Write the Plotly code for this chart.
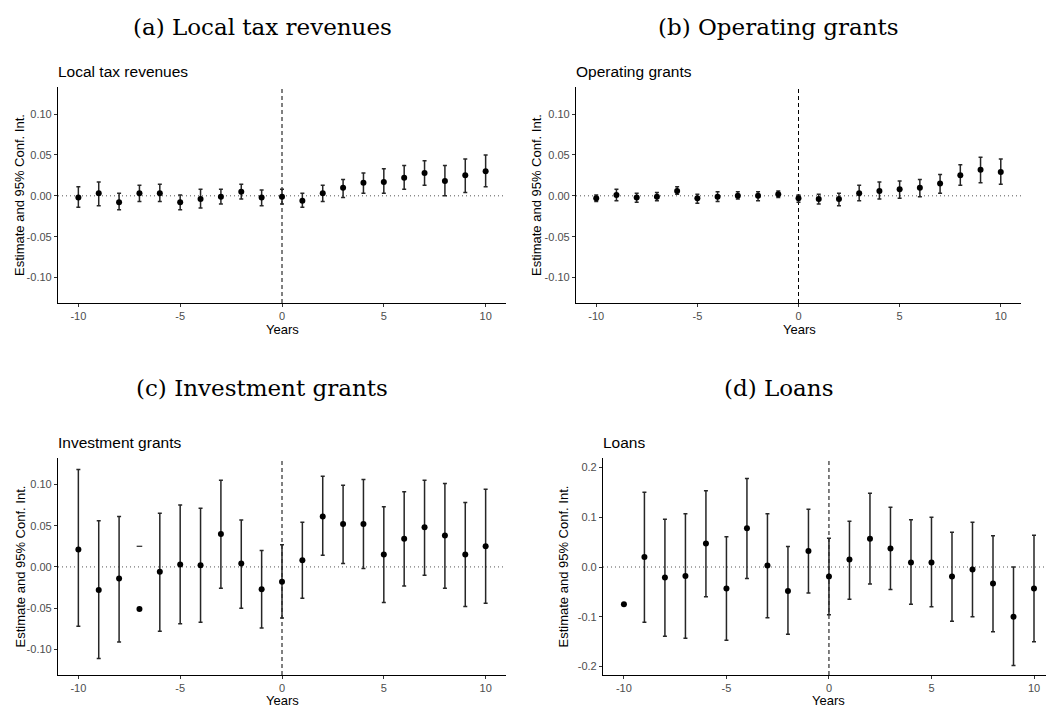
import plotly.graph_objects as go

years = list(range(-10, 11))

# (a) Local tax revenues
tax_est = [-0.002, 0.003, -0.008, 0.003, 0.003, -0.008, -0.004, -0.001, 0.005, -0.002, -0.001,
           -0.006, 0.003, 0.010, 0.016, 0.017, 0.022, 0.028, 0.018, 0.025, 0.030]
tax_hi = [0.011, 0.017, 0.003, 0.013, 0.014, 0.001, 0.008, 0.008, 0.014, 0.007, 0.008,
          0.003, 0.013, 0.020, 0.028, 0.033, 0.037, 0.043, 0.037, 0.045, 0.050]
tax_lo = [-0.014, -0.012, -0.017, -0.007, -0.007, -0.017, -0.015, -0.010, -0.004, -0.012, -0.010,
          -0.014, -0.007, -0.002, 0.003, 0.003, 0.008, 0.013, 0.000, 0.004, 0.011]

# (b) Operating grants
op_est = [-0.003, 0.001, -0.002, -0.001, 0.006, -0.003, -0.001, 0.000, 0.000, 0.002, -0.003,
          -0.004, -0.004, 0.003, 0.006, 0.008, 0.010, 0.015, 0.025, 0.032, 0.029]
op_hi = [0.001, 0.008, 0.003, 0.004, 0.011, 0.002, 0.005, 0.005, 0.005, 0.006, 0.001,
         0.002, 0.003, 0.013, 0.017, 0.018, 0.020, 0.026, 0.038, 0.047, 0.045]
op_lo = [-0.007, -0.006, -0.008, -0.006, 0.002, -0.009, -0.007, -0.004, -0.006, -0.002, -0.008,
         -0.010, -0.012, -0.006, -0.004, -0.003, -0.001, 0.003, 0.013, 0.016, 0.014]

# (c) Investment grants
inv_est = [0.021, -0.028, -0.014, -0.051, -0.006, 0.003, 0.002, 0.040, 0.004, -0.027, -0.018,
           0.008, 0.061, 0.052, 0.052, 0.015, 0.034, 0.048, 0.038, 0.015, 0.025]
inv_hi = [0.118, 0.056, 0.061, 0.025, 0.065, 0.075, 0.071, 0.105, 0.057, 0.020, 0.027,
          0.054, 0.110, 0.099, 0.106, 0.073, 0.091, 0.105, 0.101, 0.078, 0.094]
inv_lo = [-0.072, -0.111, -0.091, None, -0.078, -0.069, -0.067, -0.026, -0.050, -0.074, -0.062,
          -0.038, 0.014, 0.004, -0.002, -0.043, -0.023, -0.010, -0.026, -0.048, -0.044]

# (d) Loans
loan_est = [-0.075, 0.020, -0.021, -0.018, 0.047, -0.043, 0.078, 0.003, -0.048, 0.032, -0.019,
            0.015, 0.057, 0.037, 0.009, 0.009, -0.019, -0.005, -0.033, -0.100, -0.043]
loan_hi = [None, 0.150, 0.096, 0.107, 0.153, 0.061, 0.178, 0.107, 0.041, 0.116, 0.058,
           0.092, 0.148, 0.120, 0.095, 0.100, 0.070, 0.090, 0.063, 0.000, 0.064]
loan_lo = [None, -0.111, -0.139, -0.143, -0.060, -0.147, -0.023, -0.102, -0.135, -0.052, -0.096,
           -0.065, -0.034, -0.045, -0.075, -0.080, -0.109, -0.100, -0.130, -0.198, -0.150]

panel_titles = ["(a) Local tax revenues", "(b) Operating grants",
                "(c) Investment grants", "(d) Loans"]
plot_titles = ["Local tax revenues", "Operating grants", "Investment grants", "Loans"]
y_ticks_small = [-0.10, -0.05, 0.00, 0.05, 0.10]
y_tick_small_labels = ["-0.10", "-0.05", "0.00", "0.05", "0.10"]
y_ticks_loans = [-0.2, -0.1, 0.0, 0.1, 0.2]
y_tick_loans_labels = ["-0.2", "-0.1", "0.0", "0.1", "0.2"]
x_ticks = [-10, -5, 0, 5, 10]
x_tick_labels = ["-10", "-5", "0", "5", "10"]

W, H = 1046, 708
SANS = "Liberation Sans, Arial"

panels = [
    dict(est=tax_est, hi=tax_hi, lo=tax_lo, px=(58, 506), py=(87, 303), xr=[-11, 11], yr=[-0.131, 0.133],
         yt=y_ticks_small, ytl=y_tick_small_labels, head=(262, 27), yl=20, xl=(282, 329)),
    dict(est=op_est, hi=op_hi, lo=op_lo, px=(576, 1021), py=(87, 303), xr=[-11, 11], yr=[-0.131, 0.133],
         yt=y_ticks_small, ytl=y_tick_small_labels, head=(778, 27), yl=537, xl=(799, 329)),
    dict(est=inv_est, hi=inv_hi, lo=inv_lo, px=(58, 506), py=(458, 675), xr=[-11, 11], yr=[-0.131, 0.132],
         yt=y_ticks_small, ytl=y_tick_small_labels, head=(262, 388), yl=20, xl=(282, 700)),
    dict(est=loan_est, hi=loan_hi, lo=loan_lo, px=(603, 1046), py=(458, 675), xr=[-11.02, 10.585],
         yr=[-0.217, 0.219], yt=y_ticks_loans, ytl=y_tick_loans_labels, head=(778, 388), yl=563,
         xl=(828, 700)),
]

fig = go.Figure()
annotations = []
shapes = []
layout_axes = {}

for i, p in enumerate(panels):
    n = i + 1
    xa = "x" if n == 1 else f"x{n}"
    ya = "y" if n == 1 else f"y{n}"
    xkey = "xaxis" if n == 1 else f"xaxis{n}"
    ykey = "yaxis" if n == 1 else f"yaxis{n}"

    ex, ey, eup, edn = [], [], [], []
    cx, cy = [], []
    for yr_, e, h, l in zip(years, p["est"], p["hi"], p["lo"]):
        if h is not None and l is not None:
            ex.append(yr_); ey.append(e); eup.append(h - e); edn.append(e - l)
        elif h is not None:
            cx.append(yr_); cy.append(h)
        elif l is not None:
            cx.append(yr_); cy.append(l)

    fig.add_trace(go.Scatter(
        x=ex, y=ey, mode="markers", xaxis=xa, yaxis=ya, showlegend=False,
        marker=dict(size=0.1, color="rgba(0,0,0,0)"),
        error_y=dict(type="data", symmetric=False, array=eup, arrayminus=edn,
                     color="#262626", thickness=1.5, width=2),
    ))
    if cx:
        fig.add_trace(go.Scatter(
            x=cx, y=cy, mode="markers", xaxis=xa, yaxis=ya, showlegend=False,
            marker=dict(symbol="line-ew", size=4, line=dict(width=1.2, color="#262626")),
        ))
    fig.add_trace(go.Scatter(
        x=years, y=p["est"], mode="markers", xaxis=xa, yaxis=ya, showlegend=False,
        marker=dict(size=6, color="black"),
    ))

    x0, x1 = p["px"]
    t0, b0 = p["py"]
    common = dict(showgrid=False, zeroline=False, showline=True, linecolor="black", linewidth=1.2,
                  ticks="outside", ticklen=3, tickcolor="#333333", tickwidth=1,
                  tickfont=dict(family=SANS, size=11, color="#4d4d4d"))
    layout_axes[xkey] = dict(domain=[x0 / W, x1 / W], range=p["xr"], anchor=ya,
                             tickvals=x_ticks, ticktext=x_tick_labels, **common)
    layout_axes[ykey] = dict(domain=[1 - b0 / H, 1 - t0 / H], range=p["yr"], anchor=xa,
                             tickvals=p["yt"], ticktext=p["ytl"], **common)

    # reference lines
    shapes.append(dict(type="line", xref=f"{xa} domain", yref=ya, x0=0, x1=1, y0=0, y1=0,
                       line=dict(color="#555555", width=1, dash="1px,3px"), layer="below"))
    shapes.append(dict(type="line", xref=xa, yref=f"{ya} domain", x0=0, x1=0, y0=0, y1=1,
                       line=dict(color="black", width=1, dash="4px,3px"), layer="below"))

    # headings
    hx, hy = p["head"]
    annotations.append(dict(text=panel_titles[i], x=hx / W, y=1 - hy / H, xref="paper", yref="paper",
                            showarrow=False, xanchor="center", yanchor="middle",
                            font=dict(family="DejaVu Serif", size=23, color="black")))
    annotations.append(dict(text=plot_titles[i], x=(x0 - 2) / W, y=1 - (t0 - 5) / H, xref="paper",
                            yref="paper", showarrow=False, xanchor="left", yanchor="bottom",
                            font=dict(family=SANS, size=15.5, color="black")))
    annotations.append(dict(text="Estimate and 95% Conf. Int.", x=p["yl"] / W, y=1 - ((t0 + b0) / 2) / H,
                            xref="paper", yref="paper", showarrow=False, textangle=-90,
                            xanchor="center", yanchor="middle",
                            font=dict(family=SANS, size=13, color="black")))
    lx, ly = p["xl"]
    annotations.append(dict(text="Years", x=lx / W, y=1 - ly / H, xref="paper", yref="paper",
                            showarrow=False, xanchor="center", yanchor="middle",
                            font=dict(family=SANS, size=13, color="black")))

fig.update_layout(
    width=W, height=H, margin=dict(l=0, r=0, t=0, b=0),
    plot_bgcolor="white", paper_bgcolor="white",
    annotations=annotations, shapes=shapes, **layout_axes,
)

fig.write_html("out.html", config={"displayModeBar": False},
               post_script="document.body.style.margin='0px';document.body.style.overflow='hidden';")
